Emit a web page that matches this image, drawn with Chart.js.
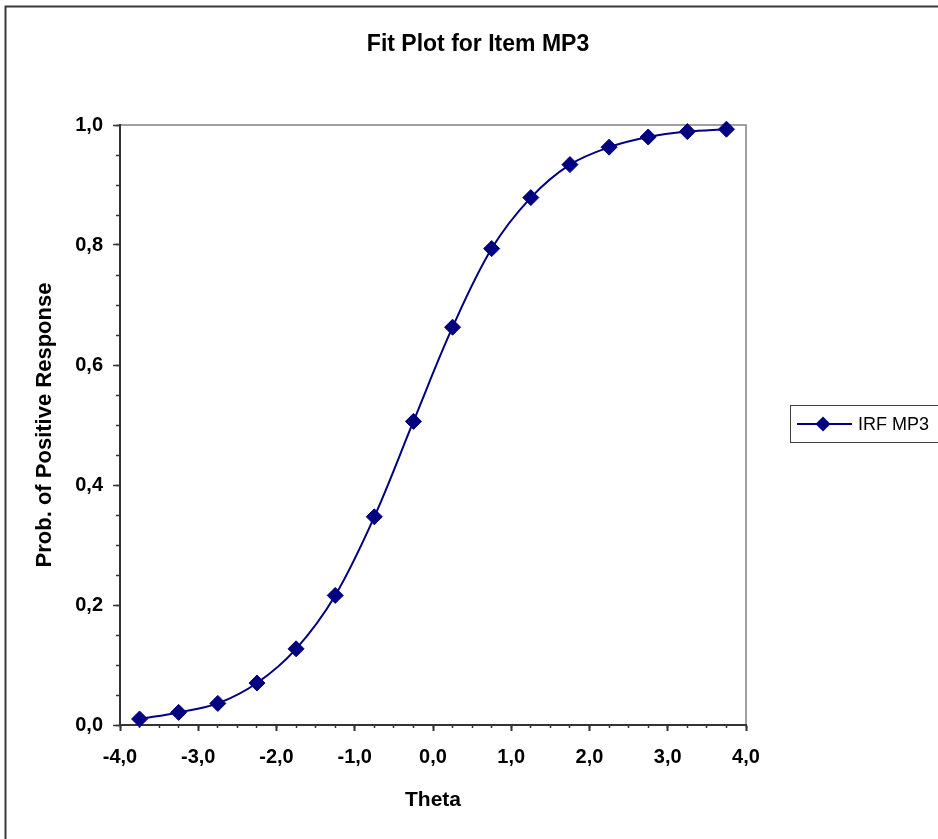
<!DOCTYPE html>
<html>
<head>
<meta charset="utf-8">
<title>Fit Plot for Item MP3</title>
<script src="https://cdn.jsdelivr.net/npm/chart.js@4.4.0/dist/chart.umd.min.js"></script>
<style>
  html, body { margin: 0; padding: 0; background: #fff; }
  canvas { display: block; }
</style>
</head>
<body>
<canvas id="canvas" width="938" height="839"></canvas>
<script>
// values
const theta = [-3.75, -3.25, -2.75, -2.25, -1.75, -1.25, -0.75, -0.25, 0.25, 0.75, 1.25, 1.75, 2.25, 2.75, 3.25, 3.75];
const irfMP3 = [0.010, 0.021, 0.036, 0.070, 0.127, 0.216, 0.347, 0.506, 0.663, 0.794, 0.879, 0.934, 0.963, 0.980, 0.989, 0.993];
const xTicks = [-4, -3, -2, -1, 0, 1, 2, 3, 4];
const yTicks = [0, 0.2, 0.4, 0.6, 0.8, 1.0];
const seriesName = 'IRF MP3';
const chartTitle = 'Fit Plot for Item MP3';
const xTitle = 'Theta';
const yTitle = 'Prob. of Positive Response';

const navy = '#000080';
const axisColor = '#333333';
const fontFamily = "'Liberation Sans', Arial, sans-serif";

Chart.defaults.font.family = fontFamily;
Chart.defaults.color = '#000';

function commaLabel(v) {
    return v.toFixed(1).replace('.', ',');
}

function diamond(ctx, x, y, r) {
    ctx.beginPath();
    ctx.moveTo(x, y - r);
    ctx.lineTo(x + r, y);
    ctx.lineTo(x, y + r);
    ctx.lineTo(x - r, y);
    ctx.closePath();
    ctx.fill();
}

// frame, plot border, title and legend box (Excel look)
const decorations = {
    id: 'decorations',
    beforeDraw(chart) {
        const ctx = chart.ctx;
        const a = chart.chartArea;
        ctx.save();
        ctx.fillStyle = '#fff';
        ctx.fillRect(0, 0, chart.width, chart.height);
        ctx.strokeStyle = '#808080';
        ctx.lineWidth = 1.5;
        ctx.strokeRect(a.left, a.top, a.right - a.left, a.bottom - a.top);
        ctx.restore();
    },
    afterDraw(chart) {
        const ctx = chart.ctx;
        ctx.save();
        // outer chart frame
        ctx.strokeStyle = '#3a3a3a';
        ctx.lineWidth = 2;
        ctx.strokeRect(5.5, 6.5, 1000, 1000);

        // title
        ctx.fillStyle = '#000';
        ctx.font = 'bold 23px ' + fontFamily;
        ctx.textAlign = 'center';
        ctx.textBaseline = 'middle';
        ctx.fillText(chartTitle, 478, 45);

        // legend
        ctx.strokeStyle = '#404040';
        ctx.lineWidth = 1;
        ctx.strokeRect(790.5, 405.5, 200, 37);
        ctx.strokeStyle = navy;
        ctx.lineWidth = 2;
        ctx.beginPath();
        ctx.moveTo(797, 424);
        ctx.lineTo(852, 424);
        ctx.stroke();
        ctx.fillStyle = navy;
        diamond(ctx, 823, 424, 7.5);
        ctx.fillStyle = '#000';
        ctx.font = '18px ' + fontFamily;
        ctx.textAlign = 'left';
        ctx.fillText(seriesName, 858, 425);
        ctx.restore();
    }
};

const ctx = document.getElementById('canvas').getContext('2d');
const myChart = new Chart(ctx, {
    type: 'line',
    data: {
        datasets: [{
            label: seriesName,
            data: theta.map(function (t, i) { return { x: t, y: irfMP3[i] }; }),
            borderColor: navy,
            backgroundColor: navy,
            borderWidth: 2,
            pointStyle: 'rectRot',
            pointRadius: 8,
            pointBorderWidth: 1,
            pointBorderColor: navy,
            pointBackgroundColor: navy,
            tension: 0.35,
            clip: false
        }]
    },
    options: {
        responsive: false,
        animation: false,
        devicePixelRatio: 1,
        layout: {
            padding: { top: 125, right: 192, left: 0, bottom: 0 }
        },
        plugins: {
            legend: { display: false },
            title: { display: false },
            tooltip: { enabled: false }
        },
        scales: {
            x: {
                type: 'linear',
                position: 'bottom',
                min: -4,
                max: 4,
                afterBuildTicks: function (scale) {
                    scale.ticks = xTicks.map(function (v) { return { value: v }; });
                },
                afterFit: function (scale) { scale.height = 114; },
                ticks: {
                    font: { size: 20, weight: 'bold' },
                    padding: 14,
                    maxRotation: 0,
                    callback: function (v) { return commaLabel(v); }
                },
                grid: {
                    drawOnChartArea: false,
                    tickLength: 6,
                    tickColor: axisColor,
                    tickWidth: 2
                },
                border: { color: axisColor, width: 2 },
                title: {
                    display: true,
                    text: xTitle,
                    font: { size: 21, weight: 'bold' },
                    padding: { top: 0, bottom: 26 }
                }
            },
            xMinor: {
                type: 'linear',
                axis: 'x',
                position: { y: 0 },
                min: -4,
                max: 4,
                ticks: { stepSize: 0.25, display: false },
                grid: {
                    drawOnChartArea: false,
                    tickLength: 3,
                    tickColor: axisColor,
                    tickWidth: 1.5
                },
                border: { display: false }
            },
            y: {
                type: 'linear',
                position: 'left',
                min: 0,
                max: 1,
                afterBuildTicks: function (scale) {
                    scale.ticks = yTicks.map(function (v) { return { value: v }; });
                },
                afterFit: function (scale) { scale.width = 120; },
                ticks: {
                    font: { size: 20, weight: 'bold' },
                    padding: 10,
                    callback: function (v) { return commaLabel(v); }
                },
                grid: {
                    drawOnChartArea: false,
                    tickLength: 7,
                    tickColor: axisColor,
                    tickWidth: 1.5
                },
                border: { color: axisColor, width: 2 },
                title: {
                    display: true,
                    text: yTitle,
                    font: { size: 22, weight: 'bold' },
                    padding: { top: 32, bottom: 0 }
                }
            },
            yMinor: {
                type: 'linear',
                axis: 'y',
                position: { x: -4 },
                min: 0,
                max: 1,
                ticks: { stepSize: 0.05, display: false },
                grid: {
                    drawOnChartArea: false,
                    tickLength: 4,
                    tickColor: axisColor,
                    tickWidth: 1.5
                },
                border: { display: false }
            }
        }
    },
    plugins: [decorations]
});
</script>
</body>
</html>
